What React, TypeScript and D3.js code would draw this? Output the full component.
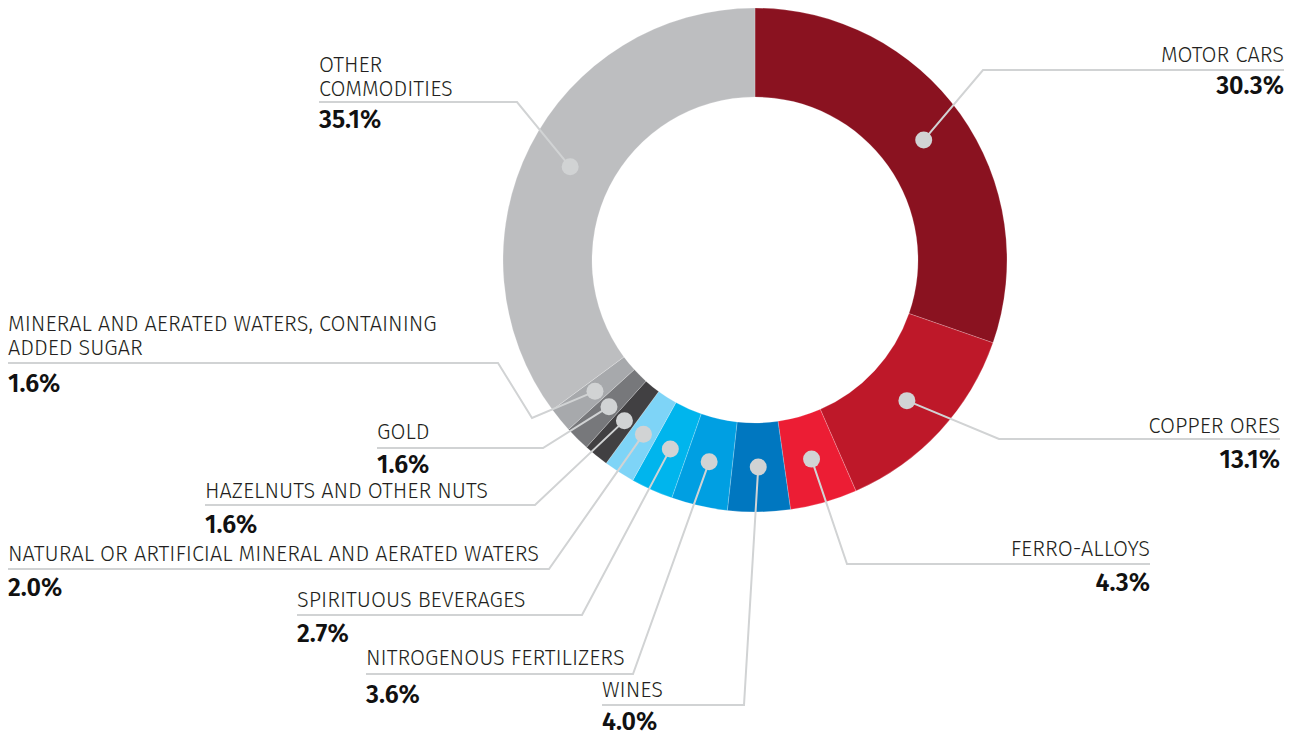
import React from "react";
import * as d3 from "d3";

const categories = [
  "MOTOR CARS",
  "COPPER ORES",
  "FERRO-ALLOYS",
  "WINES",
  "NITROGENOUS FERTILIZERS",
  "SPIRITUOUS BEVERAGES",
  "NATURAL OR ARTIFICIAL MINERAL AND AERATED WATERS",
  "HAZELNUTS AND OTHER NUTS",
  "GOLD",
  "MINERAL AND AERATED WATERS, CONTAINING|ADDED SUGAR",
  "OTHER|COMMODITIES",
];
const values = [30.3, 13.1, 4.3, 4.0, 3.6, 2.7, 2.0, 1.6, 1.6, 1.6, 35.1];
const colors = [
  "#8A1220",
  "#BE1829",
  "#EC1D34",
  "#0077C0",
  "#009FE2",
  "#00B5ED",
  "#7ED4F7",
  "#414042",
  "#77787B",
  "#A7A9AC",
  "#BDBEC0",
];

// label layout (annotation placement)
type Lay = {
  anchor: "start" | "end";
  x: number;
  nameY: number;
  lineY: number;
  cornerX: number;
  valueY: number;
  via?: [number, number];
};
const layout: Lay[] = [
  { anchor: "end", x: 1284, nameY: 62, lineY: 70, cornerX: 983, valueY: 94 },
  { anchor: "end", x: 1280, nameY: 433, lineY: 439, cornerX: 999, valueY: 468 },
  { anchor: "end", x: 1150, nameY: 556, lineY: 564, cornerX: 847, valueY: 591 },
  { anchor: "start", x: 602, nameY: 697, lineY: 705, cornerX: 744, valueY: 730 },
  { anchor: "start", x: 366, nameY: 665, lineY: 674, cornerX: 633, valueY: 703 },
  { anchor: "start", x: 297, nameY: 607, lineY: 615, cornerX: 582, valueY: 642 },
  { anchor: "start", x: 8, nameY: 561, lineY: 569, cornerX: 549, valueY: 596 },
  { anchor: "start", x: 205, nameY: 498, lineY: 505, cornerX: 535, valueY: 533 },
  { anchor: "start", x: 377, nameY: 439, lineY: 448, cornerX: 543, valueY: 473 },
  { anchor: "start", x: 8, nameY: 331, lineY: 363, cornerX: 498, valueY: 392, via: [532, 418] },
  { anchor: "start", x: 319, nameY: 72, lineY: 102, cornerX: 517, valueY: 128 },
];

const W = 1294;
const H = 736;
const cx = 755;
const cy = 260;
const rOuter = 252;
const rInner = 163;
const rDot = 207;
const lineColor = "#D1D3D4";
const font = "'Fira Sans', Roboto, 'Open Sans', sans-serif";

export default function App() {
  const pie = d3
    .pie<number>()
    .sort(null)
    .value((d) => d)
    .startAngle(0)
    .endAngle(2 * Math.PI);
  const arcs = pie(values);
  const arc = d3.arc<d3.PieArcDatum<number>>().innerRadius(rInner).outerRadius(rOuter);
  const dotArc = d3.arc<d3.PieArcDatum<number>>().innerRadius(rDot).outerRadius(rDot);
  const lineGen = d3.line();

  return (
    <svg
      width={W}
      height={H}
      style={{ position: "absolute", left: 0, top: 0, background: "#fff" }}
    >
      <g transform={`translate(${cx},${cy})`}>
        {arcs.map((a, i) => (
          <path
            key={i}
            d={arc(a) || ""}
            fill={colors[i]}
            stroke="#ffffff"
            strokeOpacity={0.35}
            strokeWidth={0.6}
          />
        ))}
      </g>
      {arcs.map((a, i) => {
        const [dx, dy] = dotArc.centroid(a);
        const px = cx + dx;
        const py = cy + dy;
        const L = layout[i];
        const pts: [number, number][] = [[px, py]];
        if (L.via) pts.push(L.via);
        pts.push([L.cornerX, L.lineY]);
        pts.push([L.x, L.lineY]);
        return (
          <path
            key={"l" + i}
            d={lineGen(pts) || ""}
            fill="none"
            stroke={lineColor}
            strokeWidth={2}
          />
        );
      })}
      {arcs.map((a, i) => {
        const [dx, dy] = dotArc.centroid(a);
        return <circle key={"c" + i} cx={cx + dx} cy={cy + dy} r={8.5} fill={lineColor} />;
      })}
      {categories.map((c, i) => {
        const L = layout[i];
        const lines = c.split("|");
        return (
          <g key={"t" + i} fontFamily={font} textAnchor={L.anchor}>
            {lines.map((ln, j) => (
              <text
                key={j}
                x={L.x}
                y={L.nameY + j * 24}
                fontSize={21.7}
                fontWeight={300}
                fill="#231F20"
              >
                {ln}
              </text>
            ))}
            <text x={L.x} y={L.valueY} fontSize={25} fontWeight={600} fill="#111">
              {values[i].toFixed(1)}%
            </text>
          </g>
        );
      })}
    </svg>
  );
}
